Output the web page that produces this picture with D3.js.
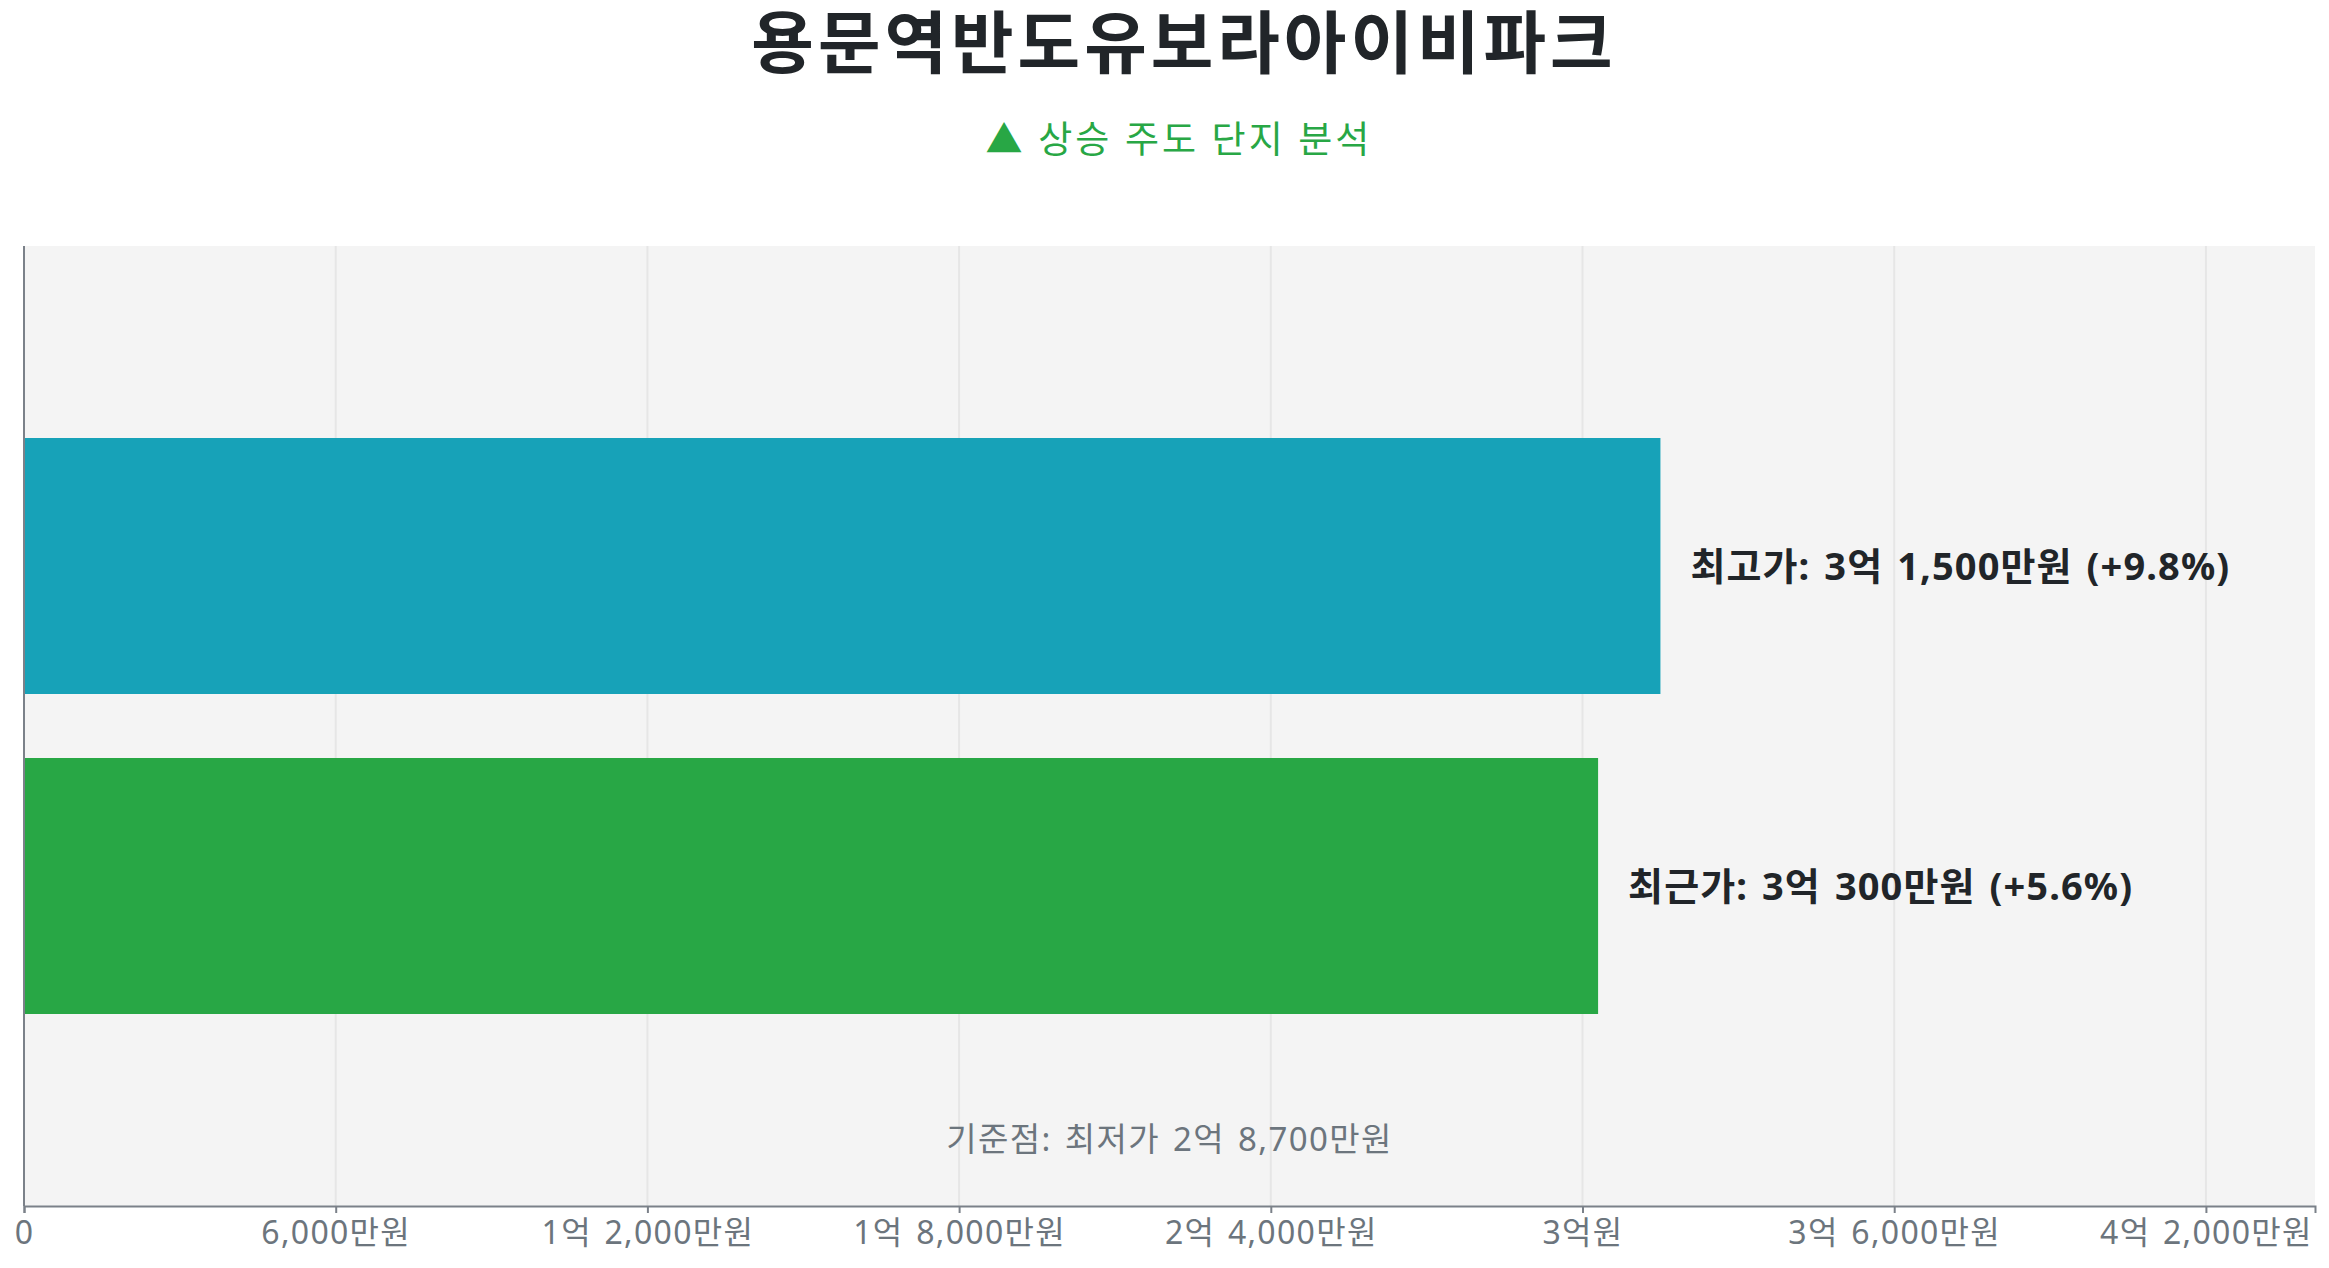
<!DOCTYPE html>
<html>
<head>
<meta charset="utf-8">
<script src="https://cdn.jsdelivr.net/npm/d3@7"></script>
<style>
  html, body { margin: 0; padding: 0; background: #fff; }
  svg { display: block; }
  text { font-family: "Noto Sans", "Noto Sans CJK KR", sans-serif; }
</style>
</head>
<body>
<svg id="chart" width="2329" height="1268"></svg>
<script>
// ---- data ----
const titleText = "용문역반도유보라아이비파크";
const subtitleText = "▲ 상승 주도 단지 분석";
const categories = ["최고가", "최근가"];
const values = [31500, 30300];          // 만원
const barColors = ["#17a2b8", "#28a745"];
const baseValue = 28700;                // 최저가 (만원)
const tickValues = [0, 6000, 12000, 18000, 24000, 30000, 36000, 42000];
const tickLabels = ["0", "6,000만원", "1억 2,000만원", "1억 8,000만원", "2억 4,000만원", "3억원", "3억 6,000만원", "4억 2,000만원"];

function fmtWon(v) {
  const eok = Math.floor(v / 10000);
  const man = v % 10000;
  let s = "";
  if (eok > 0) s += eok + "억";
  if (man > 0) s += (s ? " " : "") + d3.format(",")(man) + "만원";
  else s += "원";
  return s;
}

// ---- layout ----
const svg = d3.select("#chart");
const W = 2329, H = 1268;
const m = { left: 24, right: 14, top: 246, bottom: 62 };
const pw = W - m.left - m.right, ph = H - m.top - m.bottom;

const x = d3.scaleLinear().domain([0, d3.max(values) * 1.4]).range([0, pw]);
const y = d3.scaleBand().domain(categories).range([0, ph]).paddingInner(0.2).paddingOuter(0.6);

const g = svg.append("g").attr("transform", `translate(${m.left},${m.top})`);

// background
g.append("rect").attr("x", 0).attr("y", 0).attr("width", pw).attr("height", ph).attr("fill", "#f4f4f4");

// grid
g.append("g").selectAll("line").data(tickValues.slice(1)).join("line")
  .attr("x1", d => x(d)).attr("x2", d => x(d))
  .attr("y1", 0).attr("y2", ph)
  .attr("stroke", "#e6e6e6").attr("stroke-width", 2);

// bars
g.append("g").selectAll("rect").data(values).join("rect")
  .attr("x", 0)
  .attr("y", (d, i) => y(categories[i]))
  .attr("width", d => x(d))
  .attr("height", y.bandwidth())
  .attr("fill", (d, i) => barColors[i]);

// value labels
g.append("g").selectAll("text").data(values).join("text")
  .attr("x", d => x(d) + 30)
  .attr("y", (d, i) => y(categories[i]) + y.bandwidth() / 2)
  .attr("dy", "0.36em")
  .attr("font-size", 38)
  .attr("letter-spacing", 1.1)
  .attr("word-spacing", 3)
  .attr("font-weight", "bold")
  .attr("fill", "#212529")
  .text((d, i) => {
    const pct = (d - baseValue) / baseValue * 100;
    return `${categories[i]}: ${fmtWon(d)} (${pct >= 0 ? "+" : ""}${pct.toFixed(1)}%)`;
  });

// base label
g.append("text")
  .attr("x", pw / 2)
  .attr("y", ph - 55)
  .attr("text-anchor", "middle")
  .attr("font-size", 33)
  .attr("letter-spacing", 1.4)
  .attr("word-spacing", 3)
  .attr("fill", "#6c757d")
  .text(`기준점: 최저가 ${fmtWon(baseValue)}`);

// x axis
const xAxis = d3.axisBottom(x).tickValues(tickValues)
  .tickFormat((d, i) => tickLabels[i]).tickSize(7).tickPadding(8);
const ax = g.append("g").attr("transform", `translate(0,${ph})`).call(xAxis);
ax.select(".domain").attr("stroke", "#7b8189").attr("stroke-width", 2);
ax.selectAll(".tick line").attr("stroke", "#7b8189").attr("stroke-width", 2);
ax.selectAll(".tick text").attr("font-size", 32).attr("fill", "#6c757d")
  .attr("letter-spacing", 1.3).attr("word-spacing", 3)
  .attr("font-family", "\"Noto Sans\", \"Noto Sans CJK KR\", sans-serif");

// y axis line
g.append("line").attr("x1", 0).attr("x2", 0).attr("y1", 0).attr("y2", ph)
  .attr("stroke", "#7b8189").attr("stroke-width", 2);

// titles
svg.append("text")
  .attr("x", 1184).attr("y", 68)
  .attr("text-anchor", "middle")
  .attr("font-size", 68).attr("font-weight", "bold")
  .attr("letter-spacing", 4)
  .attr("fill", "#212529")
  .text(titleText);

svg.append("text")
  .attr("x", 1179).attr("y", 153)
  .attr("text-anchor", "middle")
  .attr("font-size", 37)
  .attr("letter-spacing", 3)
  .attr("fill", "#28a745")
  .text(subtitleText);
</script>
</body>
</html>
